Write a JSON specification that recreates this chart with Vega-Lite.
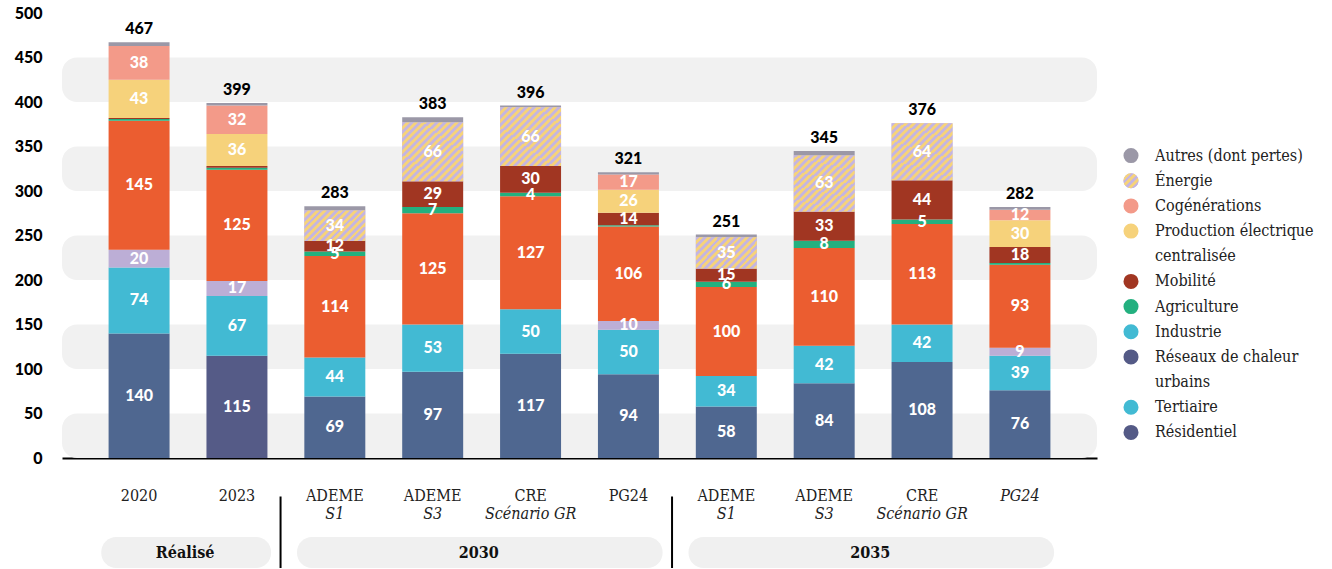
{
  "$schema": "https://vega.github.io/schema/vega-lite/v6.json",
  "background": "white",
  "padding": {"left": 14, "top": 5, "right": 5, "bottom": 0},
  "autosize": {"type": "pad"},
  "config": {"view": {"stroke": null}},
  "datasets": {
    "bandes": [{"de": 0, "a": 50}, {"de": 100, "a": 150}, {"de": 200, "a": 250}, {"de": 300, "a": 350}, {"de": 400, "a": 450}],
    "emissions": [
      {"barre": "2020", "segment": "Résidentiel", "valeur": 140},
      {"barre": "2020", "segment": "Tertiaire", "valeur": 74},
      {"barre": "2020", "segment": "Réseaux de chaleur urbains", "valeur": 20},
      {"barre": "2020", "segment": "Industrie", "valeur": 145},
      {"barre": "2020", "segment": "Agriculture", "valeur": 2},
      {"barre": "2020", "segment": "Mobilité", "valeur": 1},
      {"barre": "2020", "segment": "Production électrique centralisée", "valeur": 43},
      {"barre": "2020", "segment": "Cogénérations", "valeur": 38},
      {"barre": "2020", "segment": "Autres (dont pertes)", "valeur": 4},
      {"barre": "2023", "segment": "Résidentiel", "valeur": 115},
      {"barre": "2023", "segment": "Tertiaire", "valeur": 67},
      {"barre": "2023", "segment": "Réseaux de chaleur urbains", "valeur": 17},
      {"barre": "2023", "segment": "Industrie", "valeur": 125},
      {"barre": "2023", "segment": "Agriculture", "valeur": 2},
      {"barre": "2023", "segment": "Mobilité", "valeur": 2},
      {"barre": "2023", "segment": "Production électrique centralisée", "valeur": 36},
      {"barre": "2023", "segment": "Cogénérations", "valeur": 32},
      {"barre": "2023", "segment": "Autres (dont pertes)", "valeur": 3},
      {"barre": "ADEME S1 2030", "segment": "Résidentiel", "valeur": 69},
      {"barre": "ADEME S1 2030", "segment": "Tertiaire", "valeur": 44},
      {"barre": "ADEME S1 2030", "segment": "Industrie", "valeur": 114},
      {"barre": "ADEME S1 2030", "segment": "Agriculture", "valeur": 5},
      {"barre": "ADEME S1 2030", "segment": "Mobilité", "valeur": 12},
      {"barre": "ADEME S1 2030", "segment": "Énergie", "valeur": 34},
      {"barre": "ADEME S1 2030", "segment": "Autres (dont pertes)", "valeur": 5},
      {"barre": "ADEME S3 2030", "segment": "Résidentiel", "valeur": 97},
      {"barre": "ADEME S3 2030", "segment": "Tertiaire", "valeur": 53},
      {"barre": "ADEME S3 2030", "segment": "Industrie", "valeur": 125},
      {"barre": "ADEME S3 2030", "segment": "Agriculture", "valeur": 7},
      {"barre": "ADEME S3 2030", "segment": "Mobilité", "valeur": 29},
      {"barre": "ADEME S3 2030", "segment": "Énergie", "valeur": 66},
      {"barre": "ADEME S3 2030", "segment": "Autres (dont pertes)", "valeur": 6},
      {"barre": "CRE 2030", "segment": "Résidentiel", "valeur": 117},
      {"barre": "CRE 2030", "segment": "Tertiaire", "valeur": 50},
      {"barre": "CRE 2030", "segment": "Industrie", "valeur": 127},
      {"barre": "CRE 2030", "segment": "Agriculture", "valeur": 4},
      {"barre": "CRE 2030", "segment": "Mobilité", "valeur": 30},
      {"barre": "CRE 2030", "segment": "Énergie", "valeur": 66},
      {"barre": "CRE 2030", "segment": "Autres (dont pertes)", "valeur": 2},
      {"barre": "PG24 2030", "segment": "Résidentiel", "valeur": 94},
      {"barre": "PG24 2030", "segment": "Tertiaire", "valeur": 50},
      {"barre": "PG24 2030", "segment": "Réseaux de chaleur urbains", "valeur": 10},
      {"barre": "PG24 2030", "segment": "Industrie", "valeur": 106},
      {"barre": "PG24 2030", "segment": "Agriculture", "valeur": 1.5},
      {"barre": "PG24 2030", "segment": "Mobilité", "valeur": 14},
      {"barre": "PG24 2030", "segment": "Production électrique centralisée", "valeur": 26},
      {"barre": "PG24 2030", "segment": "Cogénérations", "valeur": 17},
      {"barre": "PG24 2030", "segment": "Autres (dont pertes)", "valeur": 2.5},
      {"barre": "ADEME S1 2035", "segment": "Résidentiel", "valeur": 58},
      {"barre": "ADEME S1 2035", "segment": "Tertiaire", "valeur": 34},
      {"barre": "ADEME S1 2035", "segment": "Industrie", "valeur": 100},
      {"barre": "ADEME S1 2035", "segment": "Agriculture", "valeur": 6},
      {"barre": "ADEME S1 2035", "segment": "Mobilité", "valeur": 15},
      {"barre": "ADEME S1 2035", "segment": "Énergie", "valeur": 35},
      {"barre": "ADEME S1 2035", "segment": "Autres (dont pertes)", "valeur": 3},
      {"barre": "ADEME S3 2035", "segment": "Résidentiel", "valeur": 84},
      {"barre": "ADEME S3 2035", "segment": "Tertiaire", "valeur": 42},
      {"barre": "ADEME S3 2035", "segment": "Industrie", "valeur": 110},
      {"barre": "ADEME S3 2035", "segment": "Agriculture", "valeur": 8},
      {"barre": "ADEME S3 2035", "segment": "Mobilité", "valeur": 33},
      {"barre": "ADEME S3 2035", "segment": "Énergie", "valeur": 63},
      {"barre": "ADEME S3 2035", "segment": "Autres (dont pertes)", "valeur": 5},
      {"barre": "CRE 2035", "segment": "Résidentiel", "valeur": 108},
      {"barre": "CRE 2035", "segment": "Tertiaire", "valeur": 42},
      {"barre": "CRE 2035", "segment": "Industrie", "valeur": 113},
      {"barre": "CRE 2035", "segment": "Agriculture", "valeur": 5},
      {"barre": "CRE 2035", "segment": "Mobilité", "valeur": 44},
      {"barre": "CRE 2035", "segment": "Énergie", "valeur": 64},
      {"barre": "PG24 2035", "segment": "Résidentiel", "valeur": 76},
      {"barre": "PG24 2035", "segment": "Tertiaire", "valeur": 39},
      {"barre": "PG24 2035", "segment": "Réseaux de chaleur urbains", "valeur": 9},
      {"barre": "PG24 2035", "segment": "Industrie", "valeur": 93},
      {"barre": "PG24 2035", "segment": "Agriculture", "valeur": 2},
      {"barre": "PG24 2035", "segment": "Mobilité", "valeur": 18},
      {"barre": "PG24 2035", "segment": "Production électrique centralisée", "valeur": 30},
      {"barre": "PG24 2035", "segment": "Cogénérations", "valeur": 12},
      {"barre": "PG24 2035", "segment": "Autres (dont pertes)", "valeur": 3}
    ],
    "barres": [
      {"barre": "2020", "nom": "2020", "sous_titre": "", "groupe": "Réalisé"},
      {"barre": "2023", "nom": "2023", "sous_titre": "", "groupe": "Réalisé"},
      {"barre": "ADEME S1 2030", "nom": "ADEME", "sous_titre": "S1", "groupe": "2030"},
      {"barre": "ADEME S3 2030", "nom": "ADEME", "sous_titre": "S3", "groupe": "2030"},
      {"barre": "CRE 2030", "nom": "CRE", "sous_titre": "Scénario GR", "groupe": "2030"},
      {"barre": "PG24 2030", "nom": "PG24", "sous_titre": "", "groupe": "2030"},
      {"barre": "ADEME S1 2035", "nom": "ADEME", "sous_titre": "S1", "groupe": "2035"},
      {"barre": "ADEME S3 2035", "nom": "ADEME", "sous_titre": "S3", "groupe": "2035"},
      {"barre": "CRE 2035", "nom": "CRE", "sous_titre": "Scénario GR", "groupe": "2035"},
      {"barre": "PG24 2035", "nom": "PG24", "sous_titre": "", "groupe": "2035"}
    ],
    "groupes": [
      {"groupe": "Réalisé", "debut": "2020", "fin": "2023", "ancre": "2023"},
      {"groupe": "2030", "debut": "ADEME S1 2030", "fin": "PG24 2030", "ancre": "CRE 2030"},
      {"groupe": "2035", "debut": "ADEME S1 2035", "fin": "PG24 2035", "ancre": "CRE 2035"}
    ],
    "legende": [
      {"categorie": "Autres (dont pertes)", "lignes": ["Autres (dont pertes)"]},
      {"categorie": "Énergie", "lignes": ["Énergie"]},
      {"categorie": "Cogénérations", "lignes": ["Cogénérations"]},
      {"categorie": "Production électrique centralisée", "lignes": ["Production électrique", "centralisée"]},
      {"categorie": "Mobilité", "lignes": ["Mobilité"]},
      {"categorie": "Agriculture", "lignes": ["Agriculture"]},
      {"categorie": "Industrie", "lignes": ["Industrie"]},
      {"categorie": "Réseaux de chaleur urbains", "lignes": ["Réseaux de chaleur", "urbains"]},
      {"categorie": "Tertiaire", "lignes": ["Tertiaire"]},
      {"categorie": "Résidentiel", "lignes": ["Résidentiel"]}
    ]
  },
  "columns": 2,
  "spacing": {"row": 17, "column": 24},
  "bounds": "flush",
  "align": "each",
  "resolve": {"scale": {"x": "independent", "y": "independent", "color": "independent", "fill": "independent"}},
  "concat": [
    {
      "width": 1035,
      "height": 445,
      "layer": [
        {
          "data": {"name": "bandes"},
          "mark": {"type": "rect", "cornerRadius": 15, "color": "#f1f1f1"},
          "encoding": {
            "y": {"field": "de", "type": "quantitative", "title": null, "scale": {"domain": [0, 500], "nice": false},
                  "axis": {"values": [0, 50, 100, 150, 200, 250, 300, 350, 400, 450, 500], "labelFont": "Lato", "labelFontSize": 16, "labelFontWeight": 900, "labelColor": "#000", "ticks": false, "domain": false, "grid": false, "labelPadding": 20}},
            "y2": {"field": "a"}
          }
        },
        {
          "data": {"name": "emissions"},
          "transform": [
            {"stack": "valeur", "groupby": ["barre"], "as": ["y0", "y1"]},
            {"calculate": "(datum.y0 + datum.y1) / 2", "as": "milieu"}
          ],
          "layer": [
            {
              "mark": {"type": "bar"},
              "encoding": {
                "x": {"field": "barre", "type": "nominal", "sort": null, "title": null,
                      "scale": {"paddingInner": 0.377, "paddingOuter": 0.476},
                      "axis": {"labels": false, "ticks": false, "grid": false, "domainColor": "#000", "domainWidth": 2}},
                "y": {"field": "y0", "type": "quantitative", "title": null},
                "y2": {"field": "y1"},
                "fill": {
                  "condition": {"test": "datum.barre == '2023' && datum.segment == 'Résidentiel'", "value": "#555b87"},
                  "field": "segment", "type": "nominal", "legend": null,
                  "scale": {
                    "domain": ["Résidentiel", "Tertiaire", "Réseaux de chaleur urbains", "Industrie", "Agriculture", "Mobilité", "Production électrique centralisée", "Cogénérations", "Énergie", "Autres (dont pertes)"],
                    "range": ["#4f6790", "#42bad3", "#bcaed6", "#eb5d30", "#23b07f", "#a13622", "#f6d27b", "#f39a89", "#c6b6dd", "#9b98a7"]
                  }
                }
              }
            },
            {
              "transform": [{"filter": "datum.segment == 'Énergie'"}],
              "mark": {"type": "bar"},
              "encoding": {
                "x": {"field": "barre", "type": "nominal", "sort": null, "title": null},
                "y": {"field": "y0", "type": "quantitative", "title": null},
                "y2": {"field": "y1"},
                "fill": {
                  "condition": {"test": "datum.valeur > 50", "value": {
                    "gradient": "linear", "x1": 0, "y1": 0, "x2": 1, "y2": 1,
                    "stops": [
                      {"offset": 0, "color": "#c6b6dd"}, {"offset": 0.0333, "color": "#c6b6dd"},
                      {"offset": 0.0333, "color": "#f5d27c"}, {"offset": 0.0667, "color": "#f5d27c"},
                      {"offset": 0.0667, "color": "#c6b6dd"}, {"offset": 0.1, "color": "#c6b6dd"},
                      {"offset": 0.1, "color": "#f5d27c"}, {"offset": 0.1333, "color": "#f5d27c"},
                      {"offset": 0.1333, "color": "#c6b6dd"}, {"offset": 0.1667, "color": "#c6b6dd"},
                      {"offset": 0.1667, "color": "#f5d27c"}, {"offset": 0.2, "color": "#f5d27c"},
                      {"offset": 0.2, "color": "#c6b6dd"}, {"offset": 0.2333, "color": "#c6b6dd"},
                      {"offset": 0.2333, "color": "#f5d27c"}, {"offset": 0.2667, "color": "#f5d27c"},
                      {"offset": 0.2667, "color": "#c6b6dd"}, {"offset": 0.3, "color": "#c6b6dd"},
                      {"offset": 0.3, "color": "#f5d27c"}, {"offset": 0.3333, "color": "#f5d27c"},
                      {"offset": 0.3333, "color": "#c6b6dd"}, {"offset": 0.3667, "color": "#c6b6dd"},
                      {"offset": 0.3667, "color": "#f5d27c"}, {"offset": 0.4, "color": "#f5d27c"},
                      {"offset": 0.4, "color": "#c6b6dd"}, {"offset": 0.4333, "color": "#c6b6dd"},
                      {"offset": 0.4333, "color": "#f5d27c"}, {"offset": 0.4667, "color": "#f5d27c"},
                      {"offset": 0.4667, "color": "#c6b6dd"}, {"offset": 0.5, "color": "#c6b6dd"},
                      {"offset": 0.5, "color": "#f5d27c"}, {"offset": 0.5333, "color": "#f5d27c"},
                      {"offset": 0.5333, "color": "#c6b6dd"}, {"offset": 0.5667, "color": "#c6b6dd"},
                      {"offset": 0.5667, "color": "#f5d27c"}, {"offset": 0.6, "color": "#f5d27c"},
                      {"offset": 0.6, "color": "#c6b6dd"}, {"offset": 0.6333, "color": "#c6b6dd"},
                      {"offset": 0.6333, "color": "#f5d27c"}, {"offset": 0.6667, "color": "#f5d27c"},
                      {"offset": 0.6667, "color": "#c6b6dd"}, {"offset": 0.7, "color": "#c6b6dd"},
                      {"offset": 0.7, "color": "#f5d27c"}, {"offset": 0.7333, "color": "#f5d27c"},
                      {"offset": 0.7333, "color": "#c6b6dd"}, {"offset": 0.7667, "color": "#c6b6dd"},
                      {"offset": 0.7667, "color": "#f5d27c"}, {"offset": 0.8, "color": "#f5d27c"},
                      {"offset": 0.8, "color": "#c6b6dd"}, {"offset": 0.8333, "color": "#c6b6dd"},
                      {"offset": 0.8333, "color": "#f5d27c"}, {"offset": 0.8667, "color": "#f5d27c"},
                      {"offset": 0.8667, "color": "#c6b6dd"}, {"offset": 0.9, "color": "#c6b6dd"},
                      {"offset": 0.9, "color": "#f5d27c"}, {"offset": 0.9333, "color": "#f5d27c"},
                      {"offset": 0.9333, "color": "#c6b6dd"}, {"offset": 0.9667, "color": "#c6b6dd"},
                      {"offset": 0.9667, "color": "#f5d27c"}, {"offset": 1, "color": "#f5d27c"}
                    ]}},
                  "value": {
                    "gradient": "linear", "x1": 0, "y1": 0, "x2": 1.2, "y2": 0.6,
                    "stops": [
                      {"offset": 0, "color": "#c6b6dd"}, {"offset": 0.0417, "color": "#c6b6dd"},
                      {"offset": 0.0417, "color": "#f5d27c"}, {"offset": 0.0833, "color": "#f5d27c"},
                      {"offset": 0.0833, "color": "#c6b6dd"}, {"offset": 0.125, "color": "#c6b6dd"},
                      {"offset": 0.125, "color": "#f5d27c"}, {"offset": 0.1667, "color": "#f5d27c"},
                      {"offset": 0.1667, "color": "#c6b6dd"}, {"offset": 0.2083, "color": "#c6b6dd"},
                      {"offset": 0.2083, "color": "#f5d27c"}, {"offset": 0.25, "color": "#f5d27c"},
                      {"offset": 0.25, "color": "#c6b6dd"}, {"offset": 0.2917, "color": "#c6b6dd"},
                      {"offset": 0.2917, "color": "#f5d27c"}, {"offset": 0.3333, "color": "#f5d27c"},
                      {"offset": 0.3333, "color": "#c6b6dd"}, {"offset": 0.375, "color": "#c6b6dd"},
                      {"offset": 0.375, "color": "#f5d27c"}, {"offset": 0.4167, "color": "#f5d27c"},
                      {"offset": 0.4167, "color": "#c6b6dd"}, {"offset": 0.4583, "color": "#c6b6dd"},
                      {"offset": 0.4583, "color": "#f5d27c"}, {"offset": 0.5, "color": "#f5d27c"},
                      {"offset": 0.5, "color": "#c6b6dd"}, {"offset": 0.5417, "color": "#c6b6dd"},
                      {"offset": 0.5417, "color": "#f5d27c"}, {"offset": 0.5833, "color": "#f5d27c"},
                      {"offset": 0.5833, "color": "#c6b6dd"}, {"offset": 0.625, "color": "#c6b6dd"},
                      {"offset": 0.625, "color": "#f5d27c"}, {"offset": 0.6667, "color": "#f5d27c"},
                      {"offset": 0.6667, "color": "#c6b6dd"}, {"offset": 0.7083, "color": "#c6b6dd"},
                      {"offset": 0.7083, "color": "#f5d27c"}, {"offset": 0.75, "color": "#f5d27c"},
                      {"offset": 0.75, "color": "#c6b6dd"}, {"offset": 0.7917, "color": "#c6b6dd"},
                      {"offset": 0.7917, "color": "#f5d27c"}, {"offset": 0.8333, "color": "#f5d27c"},
                      {"offset": 0.8333, "color": "#c6b6dd"}, {"offset": 0.875, "color": "#c6b6dd"},
                      {"offset": 0.875, "color": "#f5d27c"}, {"offset": 0.9167, "color": "#f5d27c"},
                      {"offset": 0.9167, "color": "#c6b6dd"}, {"offset": 0.9583, "color": "#c6b6dd"},
                      {"offset": 0.9583, "color": "#f5d27c"}, {"offset": 1, "color": "#f5d27c"}
                    ]}
                }
              }
            },
            {
              "transform": [{"filter": "datum.valeur >= 4 && datum.segment != 'Autres (dont pertes)'"}],
              "mark": {"type": "text", "font": "Lato", "fontWeight": 900, "fontSize": 16, "color": "#ffffff", "baseline": "middle"},
              "encoding": {
                "x": {"field": "barre", "type": "nominal", "sort": null, "title": null},
                "y": {"field": "milieu", "type": "quantitative", "title": null},
                "text": {"field": "valeur", "type": "quantitative", "format": ".0f"}
              }
            },
            {
              "mark": {"type": "text", "font": "Lato", "fontWeight": 900, "fontSize": 16, "color": "#000000", "baseline": "middle", "dy": -13},
              "encoding": {
                "x": {"field": "barre", "type": "nominal", "sort": null, "title": null},
                "y": {"aggregate": "sum", "field": "valeur", "type": "quantitative", "title": null},
                "text": {"aggregate": "sum", "field": "valeur", "type": "quantitative", "format": ".0f"}
              }
            }
          ]
        }
      ]
    },
    {
      "vconcat": [
        {"width": 20, "height": 130, "data": {"values": []}, "mark": "point"},
        {
          "width": 20,
          "height": 302,
          "data": {"name": "legende"},
          "transform": [{"flatten": ["lignes"]}],
          "layer": [
            {
              "mark": {"type": "text", "align": "left", "baseline": "middle", "dx": 24, "font": "'DejaVu Serif Condensed', 'DejaVu Serif', serif", "fontSize": 16, "color": "#222222"},
              "encoding": {
                "y": {"field": "lignes", "type": "nominal", "sort": null, "axis": null, "scale": {"type": "point", "padding": 0.5}},
                "text": {"field": "lignes"}
              }
            },
            {
              "transform": [{"filter": "indexof(datum.categorie, datum.lignes) == 0"}],
              "mark": {"type": "point", "filled": true, "size": 227, "opacity": 1, "shape": "circle"},
              "encoding": {
                "y": {"field": "lignes", "type": "nominal", "sort": null, "axis": null},
                "color": {"field": "categorie", "type": "nominal", "legend": null,
                  "scale": {
                    "domain": ["Autres (dont pertes)", "Énergie", "Cogénérations", "Production électrique centralisée", "Mobilité", "Agriculture", "Industrie", "Réseaux de chaleur urbains", "Tertiaire", "Résidentiel"],
                    "range": ["#9b98a7", "#c6b6dd", "#f39a89", "#f6d27b", "#a13622", "#23b07f", "#42bad3", "#545a86", "#42bad3", "#545a86"]
                  }}
              }
            },
            {
              "transform": [{"filter": "datum.categorie == 'Énergie'"}],
              "mark": {"type": "point", "filled": true, "size": 227, "opacity": 1, "shape": "circle",
                "fill": {"gradient": "linear", "x1": 0, "y1": 0, "x2": 1, "y2": 1,
                  "stops": [
                    {"offset": 0, "color": "#c6b6dd"}, {"offset": 0.125, "color": "#c6b6dd"},
                    {"offset": 0.125, "color": "#f5d27c"}, {"offset": 0.25, "color": "#f5d27c"},
                    {"offset": 0.25, "color": "#c6b6dd"}, {"offset": 0.375, "color": "#c6b6dd"},
                    {"offset": 0.375, "color": "#f5d27c"}, {"offset": 0.5, "color": "#f5d27c"},
                    {"offset": 0.5, "color": "#c6b6dd"}, {"offset": 0.625, "color": "#c6b6dd"},
                    {"offset": 0.625, "color": "#f5d27c"}, {"offset": 0.75, "color": "#f5d27c"},
                    {"offset": 0.75, "color": "#c6b6dd"}, {"offset": 0.875, "color": "#c6b6dd"},
                    {"offset": 0.875, "color": "#f5d27c"}, {"offset": 1, "color": "#f5d27c"}
                  ]}},
              "encoding": {
                "y": {"field": "lignes", "type": "nominal", "sort": null, "axis": null}
              }
            }
          ]
        }
      ],
      "spacing": 0,
      "bounds": "flush"
    },
    {
      "width": 1035,
      "height": 93,
      "layer": [
        {
          "data": {"name": "barres"},
          "transform": [{"filter": "!(datum.groupe == '2035' && datum.nom == 'PG24')"}],
          "mark": {"type": "text", "font": "'DejaVu Serif Condensed', 'DejaVu Serif', serif", "fontSize": 16, "color": "#222222", "baseline": "middle", "dy": 5},
          "encoding": {
            "x": {"field": "barre", "type": "nominal", "sort": null, "axis": null, "scale": {"paddingInner": 0.377, "paddingOuter": 0.476}},
            "y": {"datum": "nom", "type": "nominal", "axis": null, "scale": {"type": "band", "domain": ["nom", "sous-titre", "groupe"], "paddingInner": 0, "paddingOuter": 0}},
            "text": {"field": "nom"}
          }
        },
        {
          "data": {"name": "barres"},
          "transform": [{"filter": "datum.groupe == '2035' && datum.nom == 'PG24'"}],
          "mark": {"type": "text", "font": "'DejaVu Serif Condensed', 'DejaVu Serif', serif", "fontSize": 16, "fontStyle": "italic", "color": "#222222", "baseline": "middle", "dy": 5},
          "encoding": {
            "x": {"field": "barre", "type": "nominal", "sort": null, "axis": null},
            "y": {"datum": "nom", "type": "nominal", "axis": null},
            "text": {"field": "nom"}
          }
        },
        {
          "data": {"name": "barres"},
          "mark": {"type": "text", "font": "'DejaVu Serif Condensed', 'DejaVu Serif', serif", "fontSize": 16, "fontStyle": "italic", "color": "#222222", "baseline": "middle", "dy": -8},
          "encoding": {
            "x": {"field": "barre", "type": "nominal", "sort": null, "axis": null},
            "y": {"datum": "sous-titre", "type": "nominal", "axis": null},
            "text": {"field": "sous_titre"}
          }
        },
        {
          "data": {"name": "groupes"},
          "mark": {"type": "rect", "cornerRadius": 15, "color": "#f0f0f0"},
          "encoding": {
            "x": {"field": "debut", "type": "nominal", "sort": null, "axis": null, "bandPosition": -0.12},
            "x2": {"field": "fin", "bandPosition": 1.06},
            "y": {"datum": "groupe", "type": "nominal", "axis": null}
          }
        },
        {
          "data": {"name": "groupes"},
          "mark": {"type": "text", "font": "'DejaVu Serif Condensed', 'DejaVu Serif', serif", "fontSize": 16, "fontWeight": "bold", "color": "#111111", "baseline": "middle"},
          "encoding": {
            "x": {"field": "ancre", "type": "nominal", "sort": null, "axis": null, "bandPosition": -0.35},
            "y": {"datum": "groupe", "type": "nominal", "axis": null},
            "text": {"field": "groupe"}
          }
        },
        {
          "data": {"name": "groupes"},
          "transform": [{"filter": "datum.groupe != 'Réalisé'"}],
          "mark": {"type": "rule", "strokeWidth": 2, "color": "#000000", "yOffset": 6},
          "encoding": {
            "x": {"field": "debut", "type": "nominal", "sort": null, "axis": null, "bandPosition": -0.39},
            "y": {"datum": "nom", "type": "nominal", "axis": null},
            "y2": {"datum": "groupe", "bandPosition": 1}
          }
        }
      ]
    }
  ]
}
